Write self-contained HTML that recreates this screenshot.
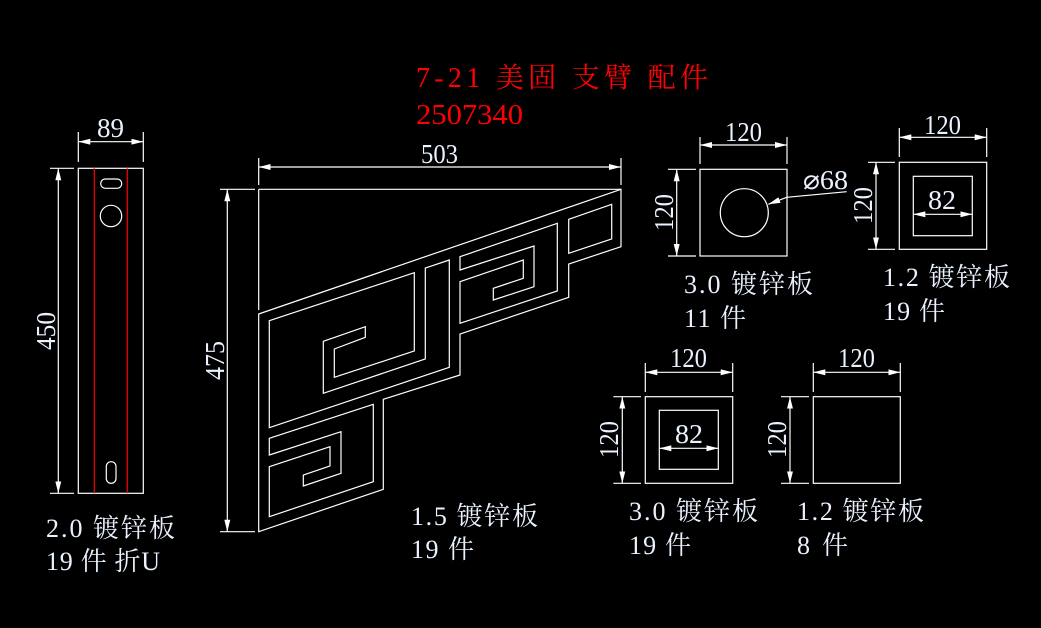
<!DOCTYPE html>
<html><head><meta charset="utf-8"><style>
html,body{margin:0;padding:0;background:#000;}
svg{display:block}
text{font-family:"Liberation Serif","Noto Serif CJK SC",serif;}
.d{fill:#eaf2ff;font-size:27px}
.l{fill:#eaf2ff;font-size:26px}
</style></head><body>
<svg width="1041" height="628" viewBox="0 0 1041 628" xmlns="http://www.w3.org/2000/svg">
<defs>
<marker id="a" viewBox="0 0 12 6" refX="12" refY="3" markerWidth="12" markerHeight="6" markerUnits="userSpaceOnUse" orient="auto-start-reverse"><path d="M0,0L12,3L0,6z" fill="#fff"/></marker>
</defs>
<g stroke="#fff" stroke-width="1.2" fill="none">
<rect x="78.3" y="168.3" width="65" height="325"/>
<line x1="94.3" y1="168.3" x2="94.3" y2="493.3" stroke="#f00"/>
<line x1="127.3" y1="168.3" x2="127.3" y2="493.3" stroke="#f00"/>
<rect x="100.7" y="179" width="21" height="9.3" rx="4.6"/>
<circle cx="111" cy="216" r="10.7"/>
<rect x="106.3" y="461.7" width="9.7" height="21.6" rx="4.8"/>
<line x1="78.3" y1="132" x2="78.3" y2="162"/><line x1="143.3" y1="132" x2="143.3" y2="162"/>
<line x1="78.3" y1="141.7" x2="143.3" y2="141.7" marker-start="url(#a)" marker-end="url(#a)"/>
<line x1="50" y1="168.3" x2="74" y2="168.3"/><line x1="50" y1="493.3" x2="74" y2="493.3"/>
<line x1="58.3" y1="168.3" x2="58.3" y2="493.3" marker-start="url(#a)" marker-end="url(#a)"/>
<line x1="258.7" y1="189.3" x2="621" y2="189.3"/>
<line x1="258.7" y1="189.3" x2="258.7" y2="310"/>
<line x1="258.7" y1="158" x2="258.7" y2="185"/><line x1="621" y1="158" x2="621" y2="185"/>
<line x1="258.7" y1="167" x2="621" y2="167" marker-start="url(#a)" marker-end="url(#a)"/>
<line x1="220" y1="189.3" x2="255" y2="189.3"/><line x1="220" y1="531.7" x2="255" y2="531.7"/>
<line x1="227.3" y1="189.3" x2="227.3" y2="531.7" marker-start="url(#a)" marker-end="url(#a)"/>
<polygon points="258.7,314 621,189.3 621,246.7 568.7,264 568.7,297.3 460,334 460,375 383.3,399.3 383.3,489.3 258.7,531.7"/>
<polygon points="568.7,219.3 611.7,204.3 611.7,239 568.7,253.3"/>
<polygon points="460,270 534,246 534,286.7 493.3,300 493.3,288.3 523.3,278.3 523.3,260 460,281.7 460,323.3 557.3,291 557.3,223.3 460,256.7"/>
<polygon points="269.3,320.7 414.3,272.7 414.3,351 334.3,377.3 334.3,349 365.3,337.3 365.3,326.7 323.3,341.3 323.3,393.3 425.3,359 425.3,268 449.3,260 449.3,367.3 269.3,427.7"/>
<polygon points="269.3,438.3 373.3,404.3 373.3,481.7 269.3,516.7 269.3,466.7 330,446.7 330,466 303.3,475 303.3,486 341,473.3 341,431.7 269.3,455"/>
<rect x="700" y="169.3" width="87" height="86.7"/>
<circle cx="744.3" cy="212.7" r="24"/>
<line x1="700" y1="137" x2="700" y2="164"/><line x1="787" y1="137" x2="787" y2="164"/>
<line x1="700" y1="145" x2="787" y2="145" marker-start="url(#a)" marker-end="url(#a)"/>
<line x1="668" y1="169.3" x2="696" y2="169.3"/><line x1="668" y1="256" x2="696" y2="256"/>
<line x1="676.7" y1="169.3" x2="676.7" y2="256" marker-start="url(#a)" marker-end="url(#a)"/>
<polyline points="846.7,191.7 786.7,197.3 768.3,204.3" marker-end="url(#a)"/>
<rect x="899.3" y="162.3" width="87.4" height="87"/>
<rect x="913.3" y="176.3" width="59" height="59.4"/>
<line x1="899.3" y1="128" x2="899.3" y2="157"/><line x1="986.7" y1="128" x2="986.7" y2="157"/>
<line x1="899.3" y1="137.3" x2="986.7" y2="137.3" marker-start="url(#a)" marker-end="url(#a)"/>
<line x1="913.3" y1="214.3" x2="972.3" y2="214.3" marker-start="url(#a)" marker-end="url(#a)"/>
<line x1="868" y1="162.3" x2="895" y2="162.3"/><line x1="868" y1="249.3" x2="895" y2="249.3"/>
<line x1="876" y1="162.3" x2="876" y2="249.3" marker-start="url(#a)" marker-end="url(#a)"/>
<rect x="645.3" y="396.7" width="87.4" height="86.6"/>
<rect x="659.3" y="410.3" width="59" height="59"/>
<line x1="645.3" y1="363" x2="645.3" y2="392"/><line x1="732.7" y1="363" x2="732.7" y2="392"/>
<line x1="645.3" y1="372.3" x2="732.7" y2="372.3" marker-start="url(#a)" marker-end="url(#a)"/>
<line x1="659.3" y1="448.3" x2="718.3" y2="448.3" marker-start="url(#a)" marker-end="url(#a)"/>
<line x1="613.3" y1="396.7" x2="641" y2="396.7"/><line x1="613.3" y1="483.3" x2="641" y2="483.3"/>
<line x1="622.3" y1="396.7" x2="622.3" y2="483.3" marker-start="url(#a)" marker-end="url(#a)"/>
<rect x="813.3" y="396.7" width="87" height="86.6"/>
<line x1="813.3" y1="363" x2="813.3" y2="392"/><line x1="900.3" y1="363" x2="900.3" y2="392"/>
<line x1="813.3" y1="372.3" x2="900.3" y2="372.3" marker-start="url(#a)" marker-end="url(#a)"/>
<line x1="781" y1="396.7" x2="809" y2="396.7"/><line x1="781" y1="483.3" x2="809" y2="483.3"/>
<line x1="790" y1="396.7" x2="790" y2="483.3" marker-start="url(#a)" marker-end="url(#a)"/>
</g>
<text class="d" x="97" y="137" textLength="27" lengthAdjust="spacingAndGlyphs">89</text>
<text class="d" transform="translate(55,350) rotate(-90)" textLength="38" lengthAdjust="spacingAndGlyphs">450</text>
<text class="d" x="421" y="163" textLength="37" lengthAdjust="spacingAndGlyphs">503</text>
<text class="d" transform="translate(224,380) rotate(-90)" textLength="39" lengthAdjust="spacingAndGlyphs">475</text>
<text class="d" x="725" y="141" textLength="37" lengthAdjust="spacingAndGlyphs">120</text>
<text class="d" transform="translate(673,231) rotate(-90)" textLength="37" lengthAdjust="spacingAndGlyphs">120</text>
<text class="d" x="803" y="189" textLength="45" lengthAdjust="spacingAndGlyphs">⌀68</text>
<text class="d" x="924" y="134" textLength="37" lengthAdjust="spacingAndGlyphs">120</text>
<text class="d" transform="translate(872,224) rotate(-90)" textLength="37" lengthAdjust="spacingAndGlyphs">120</text>
<text class="d" x="928" y="209" textLength="28" lengthAdjust="spacingAndGlyphs">82</text>
<text class="d" x="670" y="367" textLength="37" lengthAdjust="spacingAndGlyphs">120</text>
<text class="d" transform="translate(618,458) rotate(-90)" textLength="37" lengthAdjust="spacingAndGlyphs">120</text>
<text class="d" x="675" y="443" textLength="28" lengthAdjust="spacingAndGlyphs">82</text>
<text class="d" x="838" y="367" textLength="37" lengthAdjust="spacingAndGlyphs">120</text>
<text class="d" transform="translate(786,458) rotate(-90)" textLength="37" lengthAdjust="spacingAndGlyphs">120</text>
<text x="416" y="87" fill="#f00" font-size="28" textLength="292" lengthAdjust="spacing">7-21 美固 支臂 配件</text>
<text x="416" y="124" fill="#f00" font-size="28" textLength="107" lengthAdjust="spacingAndGlyphs">2507340</text>
<text class="l" x="46" y="537" textLength="129" lengthAdjust="spacing">2.0 镀锌板</text>
<text class="l" x="46" y="570" textLength="114" lengthAdjust="spacing">19 件 折U</text>
<text class="l" x="411" y="525" textLength="127" lengthAdjust="spacing">1.5 镀锌板</text>
<text class="l" x="411" y="558" textLength="63" lengthAdjust="spacing">19 件</text>
<text class="l" x="684" y="293" textLength="129" lengthAdjust="spacing">3.0 镀锌板</text>
<text class="l" x="684" y="327" textLength="62" lengthAdjust="spacing">11 件</text>
<text class="l" x="883" y="286" textLength="127" lengthAdjust="spacing">1.2 镀锌板</text>
<text class="l" x="883" y="320" textLength="62" lengthAdjust="spacing">19 件</text>
<text class="l" x="629" y="520" textLength="129" lengthAdjust="spacing">3.0 镀锌板</text>
<text class="l" x="629" y="554" textLength="62" lengthAdjust="spacing">19 件</text>
<text class="l" x="797" y="520" textLength="127" lengthAdjust="spacing">1.2 镀锌板</text>
<text class="l" x="797" y="554" textLength="51" lengthAdjust="spacing">8 件</text>
</svg>
</body></html>
